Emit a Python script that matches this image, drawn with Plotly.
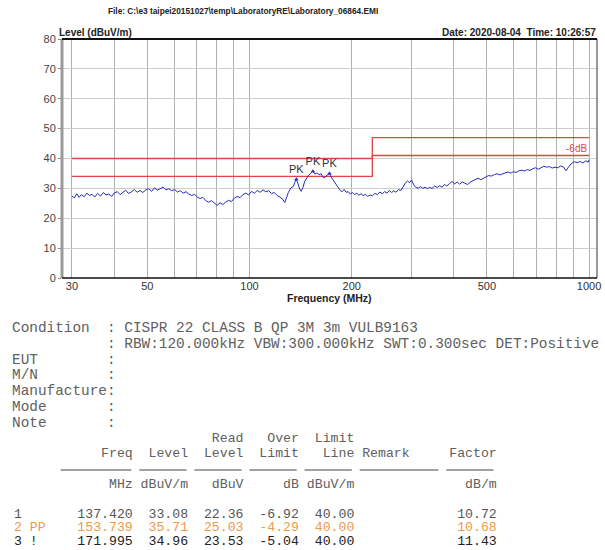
import math
import plotly.graph_objects as go

# ---------------- data ----------------
freq_mhz = [30, 30.5, 31, 31.5, 32, 32.6, 33.2, 33.8, 34.4, 35, 35.7, 36.4, 37.1, 37.8, 38.5, 39.3,
            40, 40.8, 41.6, 42.4, 43.2, 44, 44.9, 45.8, 46.7, 47.6, 48.5, 49.5, 50.5, 51.5, 52.5,
            53.5, 54.6, 55.7, 56.8, 57.9, 59, 60.2, 61.4, 62.6, 63.8, 65, 66.3, 67.6, 68.9, 70.2,
            71.5, 72.9, 74.3, 75.8, 77.3, 78.8, 80.3, 81.9, 83.5, 85.1, 86.8, 88.5, 90.2, 92, 93.8,
            95.6, 97.5, 99.4, 101.4, 103.4, 105.4, 107.5, 109.6, 111.7, 113.9, 116.1, 118.4, 120.7,
            123, 125.4, 127, 128.5, 130.2, 132.5, 134.6, 136, 137.42, 139, 140.5, 142, 143.8, 145.5,
            147.5, 149.5, 151.5, 153.739, 155.8, 158, 160.2, 162.5, 164.5, 166.5, 168.5, 170.3,
            171.995, 174, 176, 178, 180.3, 182.5, 185, 187.5, 190, 192.5, 195, 198, 201, 204, 207,
            210, 213, 216, 219.5, 223, 226.5, 230, 234, 238, 242, 246, 250, 254, 258, 262, 266, 270,
            274.5, 279, 283.5, 288, 292, 296, 300, 304.5, 309, 314, 319, 324, 329, 334, 339, 345,
            351, 357, 363, 369, 375, 381, 388, 395, 402, 409, 416, 423, 431, 439, 447, 455, 463,
            471, 480, 489, 498, 507, 516, 526, 536, 546, 556, 566, 577, 588, 599, 610, 622, 634,
            646, 658, 670, 683, 696, 709, 722, 736, 750, 764, 779, 794, 809, 824, 840, 856, 872,
            889, 906, 923, 941, 959, 977, 995, 1000]
level_dbuv = [27.5, 26.8, 28.2, 27.0, 27.9, 27.2, 28.4, 27.6, 28.0, 27.1, 28.3, 27.4, 28.6, 27.8, 28.1, 27.3,
              28.5, 28.9, 27.9, 28.7, 29.4, 28.3, 28.8, 29.6, 28.7, 29.3, 28.6, 29.5, 29.9, 29.0, 30.2,
              29.4, 29.8, 30.4, 29.5, 29.9, 29.2, 29.6, 28.8, 29.2, 28.4, 28.9, 28.1, 27.6, 28.0, 27.1,
              26.6, 27.0, 25.9, 25.4, 25.9, 25.0, 24.3, 25.2, 24.6, 25.4, 26.0, 25.6, 26.7, 27.3, 26.9,
              27.9, 28.4, 27.8, 29.0, 28.4, 29.3, 28.7, 29.5, 28.9, 29.2, 28.3, 28.6, 27.6,
              27.1, 26.3, 25.3, 26.8, 28.7, 30.2, 30.6, 32.0, 33.08, 31.5, 29.8, 29.0, 30.4, 32.4,
              33.4, 34.5, 35.0, 35.71, 34.8, 35.2, 34.6, 34.9, 33.8, 33.5, 34.3, 34.6,
              34.96, 33.8, 32.9, 32.2, 31.0, 30.1, 29.3, 28.9, 29.6, 28.7, 28.9, 28.2, 28.6, 27.9, 28.4,
              27.7, 28.2, 27.6, 28.0, 27.3, 27.8, 27.5, 28.3, 27.9, 28.8, 28.2, 28.9, 28.4, 29.3, 28.6, 29.2, 28.7,
              29.6, 29.3, 30.6, 31.8, 32.5, 31.9, 32.8, 31.2, 30.3, 30.1, 30.6, 30.0, 30.4, 29.9, 30.3, 30.0,
              30.8, 30.3, 30.9, 30.4, 31.3, 30.8, 31.6, 32.3, 31.5, 32.1, 31.4, 32.2, 31.7, 31.3, 32.1, 32.6, 33.0,
              33.4, 32.9, 33.5, 33.9, 34.3, 34.1, 34.6, 34.9, 34.5, 34.9, 35.2, 35.5, 35.1, 35.6, 35.3, 35.9, 36.1,
              35.8, 36.3, 36.0, 36.6, 36.9, 36.4, 37.0, 37.4, 37.1, 37.3, 36.8, 37.1, 36.9, 37.5, 37.2, 35.9, 37.3,
              38.4, 38.9, 38.6, 39.0, 38.5, 39.2, 38.8, 39.6]

limit_freq = [30, 230, 230, 1000]
limit_qp = [40, 40, 47, 47]
limit_margin = [34, 34, 41, 41]

peak_no = ["1", "2 PP", "3 !"]
peak_freq = [137.420, 153.739, 171.995]
peak_level = [33.08, 35.71, 34.96]
read_level = [22.36, 25.03, 23.53]
over_limit = [-6.92, -4.29, -5.04]
limit_line = [40.00, 40.00, 40.00]
factor = [10.72, 10.68, 11.43]

x_grid = [30, 40, 50, 60, 70, 80, 90, 100, 200, 300, 400, 500, 600, 700, 800, 900, 1000]
x_labels = {30: "30", 50: "50", 100: "100", 200: "200", 500: "500", 1000: "1000"}
y_ticks = [0, 10, 20, 30, 40, 50, 60, 70, 80]

title_text = "File: C:\\e3 taipei20151027\\temp\\LaboratoryRE\\Laboratory_06864.EMI"
date_text = "Date: 2020-08-04  Time: 10:26:57"
condition_lines = [
    "Condition  : CISPR 22 CLASS B QP 3M 3m VULB9163",
    "           : RBW:120.000kHz VBW:300.000kHz SWT:0.300sec DET:Positive",
    "EUT        :",
    "M/N        :",
    "Manufacture:",
    "Mode       :",
    "Note       :",
]

# ---------------- layout helpers ----------------
W, H = 605, 550
L, R, T, B = 62, 601, 39, 278
PW, PH = R - L, B - T


def px(x):
    return (x - L) / PW


def py(y):
    return (B - y) / PH


BLUE = "#2a2ab8"
RED = "#e04545"
ORANGE = "#ee9a45"
GRAYTXT = "#606060"
MONO = "Liberation Mono, Courier New, monospace"
SANS = "Liberation Sans, Arial, sans-serif"

fig = go.Figure()

fig.add_trace(go.Scatter(x=limit_freq, y=limit_qp, mode="lines",
                         line=dict(color=RED, width=1.3), hoverinfo="skip"))
fig.add_trace(go.Scatter(x=limit_freq, y=limit_margin, mode="lines",
                         line=dict(color=RED, width=1.3), hoverinfo="skip"))
fig.add_trace(go.Scatter(x=freq_mhz, y=level_dbuv, mode="lines",
                         line=dict(color=BLUE, width=1)))
fig.add_trace(go.Scatter(x=peak_freq, y=peak_level, mode="markers+text",
                         marker=dict(color=BLUE, size=4, symbol="triangle-up"),
                         text=["PK"] * len(peak_freq), textposition="top center",
                         textfont=dict(family=SANS, size=11, color="#333333")))

xr = [math.log10(30) - 10 / 342, math.log10(1000) + 8 / 342]

fig.update_layout(
    width=W, height=H,
    margin=dict(l=L, r=W - R, t=T, b=H - B, pad=0),
    paper_bgcolor="white", plot_bgcolor="white",
    showlegend=False,
    xaxis=dict(type="log", range=xr, tickvals=x_grid,
               ticktext=[x_labels.get(v, "") for v in x_grid],
               showgrid=True, gridcolor="#b0b0b0", gridwidth=1, ticks="",
               ticklabeloverflow="allow",
               tickfont=dict(family=SANS, size=11, color="#333333"),
               showline=False, zeroline=False),
    yaxis=dict(range=[0, 80], tickvals=y_ticks, showgrid=True, gridcolor="#cccccc",
               ticks="outside", ticklen=3, tickcolor="#888888",
               tickfont=dict(family=SANS, size=11, color="#444444"),
               showline=False, zeroline=False),
)

# frame
fig.add_shape(type="line", xref="paper", yref="paper", x0=0, x1=0, y0=0, y1=1,
              line=dict(color="#9a9a9a", width=3))
fig.add_shape(type="line", xref="paper", yref="paper", x0=1, x1=1, y0=0, y1=1,
              line=dict(color="#777777", width=1.5))
fig.add_shape(type="line", xref="paper", yref="paper", x0=0, x1=1, y0=1, y1=1,
              line=dict(color="#111111", width=1.8))
fig.add_shape(type="line", xref="paper", yref="paper", x0=0, x1=1, y0=0, y1=0,
              line=dict(color="#111111", width=1.5))

ann = []


def add_text(text, x, y, size, color, family=SANS, anchor="left", bold=False):
    t = text.replace(" ", "\u00a0")
    if bold:
        t = "<b>" + t + "</b>"
    ann.append(dict(text=t, x=px(x), y=py(y), xref="paper", yref="paper",
                    xanchor=anchor, yanchor="middle", showarrow=False,
                    font=dict(family=family, size=size, color=color), borderpad=0))


add_text(title_text, 244, 11, 8.3, "#222222", anchor="center", bold=True)
add_text("Level (dBuV/m)", 58, 32, 10, "#222222", bold=True)
add_text(date_text, 601, 32, 10, "#222222", anchor="right", bold=True)
add_text("Frequency (MHz)", 332, 298, 10.5, "#222222", anchor="center", bold=True)
add_text("-6dB", 592, 148, 10, RED, anchor="right")

# condition block
for i, line in enumerate(condition_lines):
    add_text(line, 11, 328 + i * 15.8, 14.4, GRAYTXT, family=MONO)

# table
CW = 7.93
X0 = 13
hdr_a = " " * 25 + "Read" + "   Over" + "  Limit"
hdr_b = " " * 11 + "Freq" + "  Level" + "  Level" + "  Limit" + "   Line" + " Remark" + " " * 5 + "Factor"
units = " " * 12 + "MHz" + " dBuV/m" + "   dBuV" + "     dB" + " dBuV/m" + " " * 14 + "dB/m"
add_text(hdr_a, X0, 438, 13.2, GRAYTXT, family=MONO)
add_text(hdr_b, X0, 453, 13.2, GRAYTXT, family=MONO)
add_text(units, X0, 484, 13.2, GRAYTXT, family=MONO)

for c0, c1 in [(6, 15), (16, 22), (23, 29), (30, 36), (37, 43), (44, 54), (55, 61)]:
    fig.add_shape(type="line", xref="paper", yref="paper",
                  x0=px(X0 + c0 * CW), x1=px(X0 + c1 * CW), y0=py(470), y1=py(470),
                  line=dict(color="#444444", width=1))

row_colors = ["#555555", ORANGE, "#222222"]
for i in range(len(peak_no)):
    row = (f"{peak_no[i]:<8}{peak_freq[i]:7.3f}{peak_level[i]:7.2f}{read_level[i]:7.2f}"
           f"{over_limit[i]:7.2f}{limit_line[i]:7.2f}{'':11}{factor[i]:7.2f}")
    add_text(row, X0, 514 + i * 13.7, 13.2, row_colors[i], family=MONO)

fig.update_layout(annotations=ann)
fig.write_html("out.html", config={"displayModeBar": False},
               post_script="document.body.style.margin='0';document.body.style.overflow='hidden';")
